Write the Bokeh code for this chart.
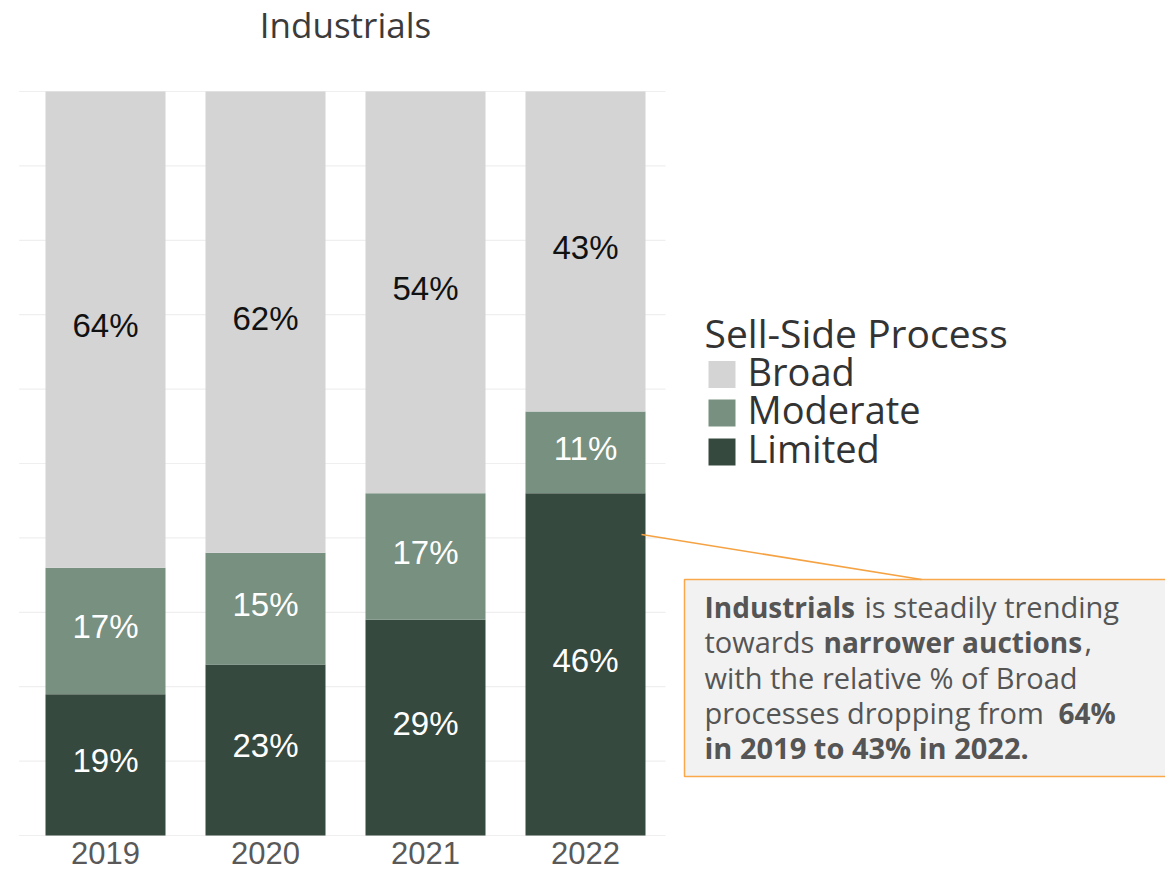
from bokeh.plotting import figure
from bokeh.models import Range1d, ColumnDataSource, BoxAnnotation
from bokeh.core.properties import value
from bokeh.embed import file_html
from bokeh.resources import INLINE

# ---------------- data ----------------
years = ["2019", "2020", "2021", "2022"]
limited = [19, 23, 29, 46]
moderate = [17, 15, 17, 11]
broad = [64, 62, 54, 43]
series_names = ["Limited", "Moderate", "Broad"]
legend_order = ["Broad", "Moderate", "Limited"]
colors = {"Limited": "#36493f", "Moderate": "#77907f", "Broad": "#d4d4d4"}
label_colors = {"Limited": "white", "Moderate": "white", "Broad": "#111111"}
title_text = "Industrials"
legend_title = "Sell-Side Process"
grid_values = list(range(0, 101, 10))
note_lines = [
    [("Industrials", "bold"), ("is steadily trending", "normal")],
    [("towards", "normal"), ("narrower auctions", "bold"), (",", "normal")],
    [("with the relative % of Broad", "normal")],
    [("processes dropping from", "normal"), ("64%", "bold")],
    [("in 2019 to 43% in 2022.", "bold")],
]
# horizontal offsets (px) of each text run inside its line, and font sizes
note_offsets = [[0, 160], [0, 119, 380], [0], [0, 354], [0]]
note_sizes = [["28px", "29px"], ["29px", "28px", "29px"], ["29px"], ["29px", "28px"], ["29px"]]

# ---------------- layout helpers (page pixel -> data) ----------------
FIG_W, FIG_H = 1165, 871
PX_PER_X = 160.0
X0_PX = 105.0          # px of first category centre
Y0_PX = 835.0          # px of value 0
PX_PER_Y = 7.44        # px per percentage point


def dx(px):
    return (px - X0_PX) / PX_PER_X


def dy(py):
    return (Y0_PX - py) / PX_PER_Y


p = figure(width=FIG_W, height=FIG_H, output_backend="svg", toolbar_location=None,
           x_range=Range1d(dx(0), dx(FIG_W)), y_range=Range1d(dy(FIG_H), dy(0)),
           min_border_left=0, min_border_right=0, min_border_top=0, min_border_bottom=0)
p.outline_line_color = None
p.background_fill_color = "white"
p.border_fill_color = "white"
p.xgrid.visible = False
p.ygrid.visible = False
p.xaxis.visible = False
p.yaxis.visible = False

xs = list(range(len(years)))

# title (centred over the four bars)
p.text(x=[(xs[0] + xs[-1]) / 2], y=[dy(24)], text=[title_text],
       text_font=value("Open Sans"), text_font_size="35px", text_color="#3b3b3b",
       text_align="center", text_baseline="middle")

# grid lines
g_src = ColumnDataSource(dict(y=grid_values,
                              x0=[xs[0] - 0.54] * len(grid_values),
                              x1=[xs[-1] + 0.5] * len(grid_values)))
p.segment(x0="x0", x1="x1", y0="y", y1="y", source=g_src, line_color="#efefef", line_width=1.2)

# stacked bars
data = dict(x=xs, Limited=limited, Moderate=moderate, Broad=broad)
src = ColumnDataSource(data)
p.vbar_stack(series_names, x="x", width=0.75, source=src,
             color=[colors[s] for s in series_names], line_color=None)

# segment labels
lab_x, lab_y, lab_t, lab_c = [], [], [], []
for i in xs:
    base = 0
    for s in series_names:
        v = data[s][i]
        lab_x.append(i)
        lab_y.append(base + v / 2.0)
        lab_t.append(f"{v}%")
        lab_c.append(label_colors[s])
        base += v
p.text(x="x", y="y", text="t", text_color="c",
       source=ColumnDataSource(dict(x=lab_x, y=lab_y, t=lab_t, c=lab_c)),
       text_align="center", text_baseline="middle", y_offset=-4,
       text_font=value("Liberation Sans"), text_font_size="33px")

# category labels (x axis)
p.text(x=xs, y=[dy(852)] * len(xs), text=years,
       text_align="center", text_baseline="middle",
       text_font=value("Liberation Sans"), text_font_size="31px", text_color="#595959")

# legend (drawn by hand)
p.scatter(x=[dx(721.5)] * 3, y=[dy(374), dy(412.5), dy(451.5)], marker="square", size=27,
          color=[colors[s] for s in legend_order], line_color=None)
p.text(x=[dx(747)] * 3, y=[dy(373), dy(411), dy(450)], text=legend_order,
       text_font=value("Open Sans"), text_font_size="38px", text_color="#333333",
       text_baseline="middle", text_align="left", y_offset=-3)
p.text(x=[dx(704)], y=[dy(335)], text=[legend_title],
       text_font=value("Open Sans"), text_font_size="39px", text_color="#333333",
       text_baseline="middle", text_align="left", y_offset=-3)

# annotation box
p.add_layout(BoxAnnotation(left=dx(684), right=dx(FIG_W + 20), bottom=dy(776), top=dy(579),
                           fill_color="#f2f2f2", fill_alpha=1.0,
                           line_color="#f9a94b", line_alpha=1.0, line_width=1.5,
                           level="underlay"))
# leader line from the 2022 Limited bar
p.segment(x0=[xs[-1] + 0.35], y0=[dy(534)], x1=[dx(921)], y1=[dy(579)],
          line_color="#f5a243", line_width=1.5)

line_centres = [609, 644, 680, 715, 750]
for line, offs, sizes, yc in zip(note_lines, note_offsets, note_sizes, line_centres):
    for (txt, style), off, fs in zip(line, offs, sizes):
        p.text(x=[dx(704 + off)], y=[dy(yc)], text=[txt],
               text_font=value("Open Sans"), text_font_size=fs,
               text_font_style=style, text_color="#555555",
               text_baseline="middle", text_align="left", y_offset=-3)

open("out.html", "w").write(file_html(p, INLINE))
